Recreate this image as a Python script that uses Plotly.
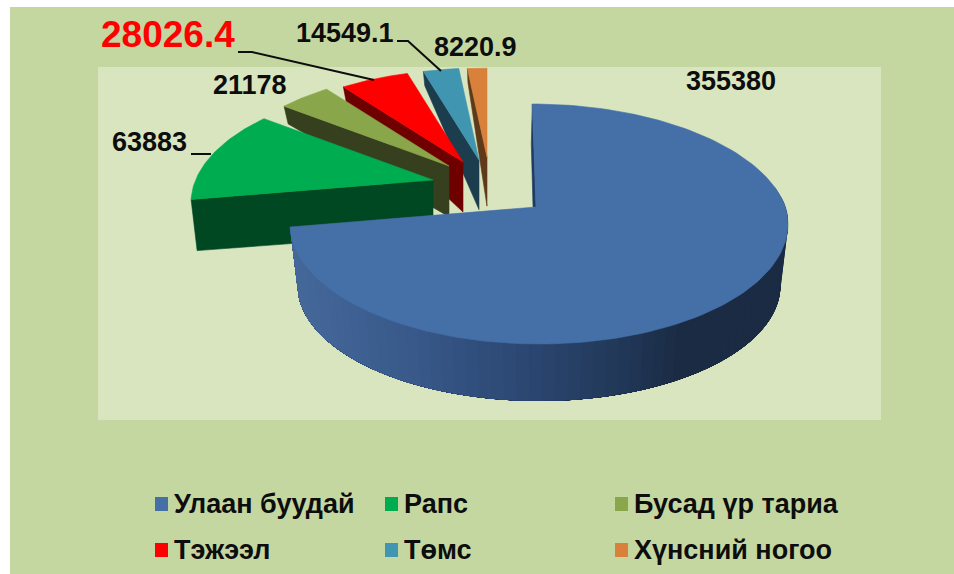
import numpy as np
import plotly.graph_objects as go

# ---- data ----
categories = ["Улаан буудай", "Рапс", "Бусад үр тариа", "Тэжээл", "Төмс", "Хүнсний ногоо"]
values = [355380, 63883, 21178, 28026.4, 14549.1, 8220.9]
value_labels = ["355380", "63883", "21178", "28026.4", "14549.1", "8220.9"]

# ---- style ----
top_colors = ["#4470A7", "#00AC50", "#8AA64B", "#FF0000", "#4095B0", "#D9803B"]
side_colors = ["#1F3A63", "#004822", "#363F1E", "#6E0000", "#1C3D4E", "#5E3A1A"]
FONT = "Liberation Sans"
W, H = 954, 574

# projection of the tilted pie
RX, RY = 246.5, 117.6
persp = [0.1416, 0.195, 0.1416, 0.1416, 0.1416, 0.1416]
origins = [(539, 207), (433, 180), (449, 166), (463, 162), (479, 160), (487, 157)]
scales = [1.0, 0.963, 0.90, 0.88, 0.88, 0.85]


def arc(i, t):
    u, v = np.sin(t), np.cos(t)
    ox, oy = origins[i]
    k = persp[i]
    s = scales[i] * (1 if i <= 1 else 250 / RX)
    dx = s * RX * u / (1 + k * v)
    dy = -s * RY * v / (1 + k * v)
    x = ox + dx + (0.065 * np.minimum(dy, 0) if i == 0 else 0)
    return x, oy + dy


def depth(y):
    return np.interp(y, [70, 108, 150, 180, 199, 226, 344], [14, 18, 48, 53, 51, 61, 57])


def lower(i, x, y):
    cx = 540 if i == 0 else origins[i][0]
    f = 0.03 if i == 0 else 0.025
    return x + f * (cx - x), y + depth(y)


def hex2rgb(c):
    return [int(c[j:j + 2], 16) for j in (1, 3, 5)]


def grad(x):
    stops_x = [290, 420, 540, 650, 690, 790]
    stops = [hex2rgb(c) for c in ["#46699B", "#38598A", "#2B4670", "#1F3452", "#1A2B43", "#1A2B43"]]
    return "rgb(%d,%d,%d)" % tuple(np.interp(x, stops_x, [s[j] for s in stops]) for j in range(3))


fracs = np.array(values) / sum(values)
edges = np.concatenate([[0], np.cumsum(fracs)]) * 2 * np.pi

fig = go.Figure()


def poly(x, y, color, name=None, lw=0.6):
    fig.add_trace(go.Scatter(
        x=list(x) + [x[0]], y=list(y) + [y[0]], mode="lines", fill="toself",
        fillcolor=color, line=dict(color=color, width=lw), hoverinfo="skip" if name is None else "text",
        text=name, showlegend=False))


# back to front: small slices first, the big slice last
for i in range(5, 0, -1):
    t0, t1 = edges[i], edges[i + 1]
    ox, oy = origins[i]
    x0, y0 = arc(i, t0)
    bx0, by0 = lower(i, x0, y0)
    poly([x0, ox, ox, bx0], [y0, oy, oy + depth(oy), by0], side_colors[i])
    ts = np.linspace(t0, t1, 40)
    ax, ay = arc(i, ts)
    poly([ox] + list(ax), [oy] + list(ay), top_colors[i], f"{categories[i]}: {value_labels[i]}")

# big slice: rim drawn as overlapping strips so that it shades from right to left
t0, t1 = edges[0], edges[1]
ax0, ay0 = arc(0, t0)
poly([ax0, 536, 533, ax0 - 1], [ay0, 207, 207, ay0 + 40], side_colors[0])
ts = np.linspace(np.radians(80), t1, 70)
for a in ts[:-1]:
    tt = np.linspace(a, t1, 70)
    x, y = arc(0, tt)
    bx, by = lower(0, x, y)
    poly(list(x) + list(bx[::-1]), list(y) + list(by[::-1]), grad(float(x[0])), lw=0)
ts = np.linspace(t0, t1, 160)
ax, ay = arc(0, ts)
poly([536] + list(ax), [207] + list(ay), top_colors[0], f"{categories[0]}: {value_labels[0]}")

# ---- value labels ----
label_pos = [(684, 81), (110, 142), (211, 85), (99, 34), (294, 33), (432, 47)]
label_size = [27, 27, 27, 37, 27, 27]
label_col = ["#0D0D0D", "#0D0D0D", "#0D0D0D", "#FF0000", "#0D0D0D", "#0D0D0D"]
ann = []
for lab, (x, y), s, c in zip(value_labels, label_pos, label_size, label_col):
    ann.append(dict(x=x, y=y, xref="x", yref="y", text=lab, showarrow=False, xanchor="left", yanchor="middle",
                    font=dict(family=FONT, size=s, color=c, weight="bold")))

# ---- hand-placed legend (three uneven columns) ----
legend_pos = [(155, 504), (385, 504), (615, 504), (155, 550), (385, 550), (615, 550)]
shapes = [
    dict(type="rect", xref="x", yref="y", x0=10, x1=W, y0=7, y1=H, fillcolor="#C5D7A0", line_width=0, layer="below"),
    dict(type="rect", xref="x", yref="y", x0=98, x1=881, y0=67, y1=420, fillcolor="#D9E5BE", line_width=0, layer="below"),
    dict(type="path", xref="x", yref="y", path="M238,52 L252,52 L374,80", line=dict(color="#0D0D0D", width=2)),
    dict(type="path", xref="x", yref="y", path="M397,41 L408,41 L441,71", line=dict(color="#0D0D0D", width=2)),
    dict(type="path", xref="x", yref="y", path="M191,154 L211,154", line=dict(color="#0D0D0D", width=2)),
]
for (x, y), name, c in zip(legend_pos, categories, top_colors):
    shapes.append(dict(type="rect", xref="x", yref="y", x0=x, x1=x + 13, y0=y - 7, y1=y + 7, fillcolor=c, line_width=0))
    ann.append(dict(x=x + 17, y=y, xref="x", yref="y", text=name, showarrow=False, xanchor="left", yanchor="middle",
                    font=dict(family=FONT, size=27, color="#0D0D0D", weight="bold")))

fig.update_layout(
    width=W, height=H, margin=dict(l=0, r=0, t=0, b=0), paper_bgcolor="white", plot_bgcolor="rgba(0,0,0,0)",
    xaxis=dict(range=[0, W], visible=False, fixedrange=True),
    yaxis=dict(range=[H, 0], visible=False, fixedrange=True),
    showlegend=False, shapes=shapes, annotations=ann,
)
fig.write_html("out.html", config={"displayModeBar": False},
               post_script="document.body.style.margin='0';document.body.style.overflow='hidden';")
